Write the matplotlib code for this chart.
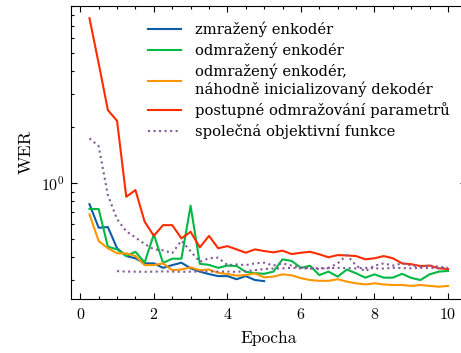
import numpy as np
import matplotlib
matplotlib.use('Agg')
import matplotlib.pyplot as plt

plt.rcParams['font.family'] = ['cmr10', 'DejaVu Serif']
plt.rcParams['mathtext.fontset'] = 'cm'
plt.rcParams['axes.formatter.use_mathtext'] = True
plt.rcParams['axes.linewidth'] = 0.8
for ax_name in ['xtick', 'ytick']:
    plt.rcParams[ax_name + '.direction'] = 'in'
    plt.rcParams[ax_name + '.major.size'] = 4.0
    plt.rcParams[ax_name + '.minor.size'] = 2.0
    plt.rcParams[ax_name + '.major.width'] = 0.8
    plt.rcParams[ax_name + '.minor.width'] = 0.8
plt.rcParams['xtick.top'] = True
plt.rcParams['ytick.right'] = True
plt.rcParams['xtick.minor.visible'] = True
plt.rcParams['ytick.minor.visible'] = True

epochs = np.arange(0.25, 10.01, 0.25)

wer_frozen = [0.77, 0.575, 0.58, 0.446, 0.405, 0.394, 0.37, 0.37, 0.35, 0.362,
              0.373, 0.348, 0.334, 0.324, 0.316, 0.316, 0.304, 0.316, 0.301, 0.297]

wer_unfrozen = [0.725, 0.725, 0.455, 0.44, 0.405, 0.427, 0.374, 0.53, 0.372, 0.392,
                0.392, 0.755, 0.368, 0.363, 0.35, 0.36, 0.358, 0.333, 0.328, 0.325,
                0.334, 0.389, 0.381, 0.35, 0.359, 0.32, 0.334, 0.314, 0.343, 0.327,
                0.31, 0.323, 0.31, 0.31, 0.325, 0.309, 0.301, 0.323, 0.334, 0.337]

wer_random_dec = [0.679, 0.488, 0.446, 0.419, 0.419, 0.405, 0.362, 0.362, 0.37, 0.34,
                  0.343, 0.352, 0.34, 0.343, 0.329, 0.324, 0.318, 0.32, 0.327, 0.311,
                  0.314, 0.323, 0.319, 0.308, 0.301, 0.298, 0.298, 0.304, 0.295, 0.289,
                  0.285, 0.289, 0.285, 0.283, 0.283, 0.28, 0.283, 0.28, 0.277, 0.28]

wer_gradual = [7.7, 4.4, 2.47, 2.16, 0.844, 0.917, 0.62, 0.52, 0.594, 0.594,
               0.504, 0.547, 0.451, 0.52, 0.446, 0.458, 0.44, 0.422, 0.44, 0.431,
               0.424, 0.433, 0.415, 0.422, 0.427, 0.414, 0.399, 0.41, 0.408, 0.405,
               0.389, 0.394, 0.405, 0.394, 0.37, 0.366, 0.358, 0.36, 0.348, 0.345]

wer_joint = [1.74, 1.58, 0.86, 0.64, 0.55, 0.51, 0.47, 0.44, 0.435, 0.42,
             0.49, 0.43, 0.377, 0.394, 0.397, 0.362, 0.365, 0.362, 0.37, 0.373,
             0.36, 0.37, 0.36, 0.35, 0.35, 0.345, 0.35, 0.37, 0.41, 0.36,
             0.335, 0.36, 0.37, 0.36, 0.37, 0.36, 0.355, 0.36, 0.355, 0.35]

# second run of the joint objective, logged from epoch 1
wer_joint_b = [0.336, 0.334, 0.334, 0.333, 0.334, 0.335, 0.334, 0.333, 0.334, 0.334,
               0.335, 0.334, 0.334, 0.333, 0.336, 0.34, 0.345, 0.347, 0.348, 0.35,
               0.348, 0.347, 0.349, 0.348, 0.35, 0.349, 0.348, 0.35, 0.348, 0.347,
               0.35, 0.349, 0.348, 0.35, 0.349, 0.348, 0.35]

labels = ['zmražený enkodér',
          'odmražený enkodér',
          'odmražený enkodér,\nnáhodně inicializovaný dekodér',
          'postupné odmražování parametrů',
          'společná objektivní funkce']

fig = plt.figure(figsize=(4.61, 3.53), dpi=100)
ax = fig.add_axes([0.155, 0.153, 0.856, 0.831])

lw = 1.5
ax.plot(epochs[:len(wer_frozen)], wer_frozen, color='#0C5DA5', lw=lw, label=labels[0])
ax.plot(epochs, wer_unfrozen, color='#00B945', lw=lw, label=labels[1])
ax.plot(epochs, wer_random_dec, color='#FF9500', lw=lw, label=labels[2])
ax.plot(epochs, wer_gradual, color='#FF2C00', lw=lw, label=labels[3])
ax.plot(epochs, wer_joint, color='#845B97', lw=lw, ls=':', label=labels[4])
ax.plot(epochs[3:], wer_joint_b, color='#845B97', lw=lw, ls=':')

ax.set_yscale('log')
ax.set_xlim(-0.24, 10.49)
ax.set_ylim(0.238, 9.0)
ax.set_xticks([0, 2, 4, 6, 8, 10])
ax.tick_params(axis='x', labelsize=11.5, pad=6)
ax.tick_params(axis='y', labelsize=11.5, pad=5)
ax.set_xlabel('Epocha', fontsize=12.5, labelpad=6)
ax.set_ylabel('WER', fontsize=13, labelpad=5)

leg = ax.legend(loc='upper left', bbox_to_anchor=(0.18, 0.967), frameon=False,
                prop={'family': 'DejaVu Serif', 'size': 10.6},
                handlelength=2.2, handletextpad=1.0, labelspacing=0.38,
                borderaxespad=0.0)

fig.savefig('out.png', dpi=100)
